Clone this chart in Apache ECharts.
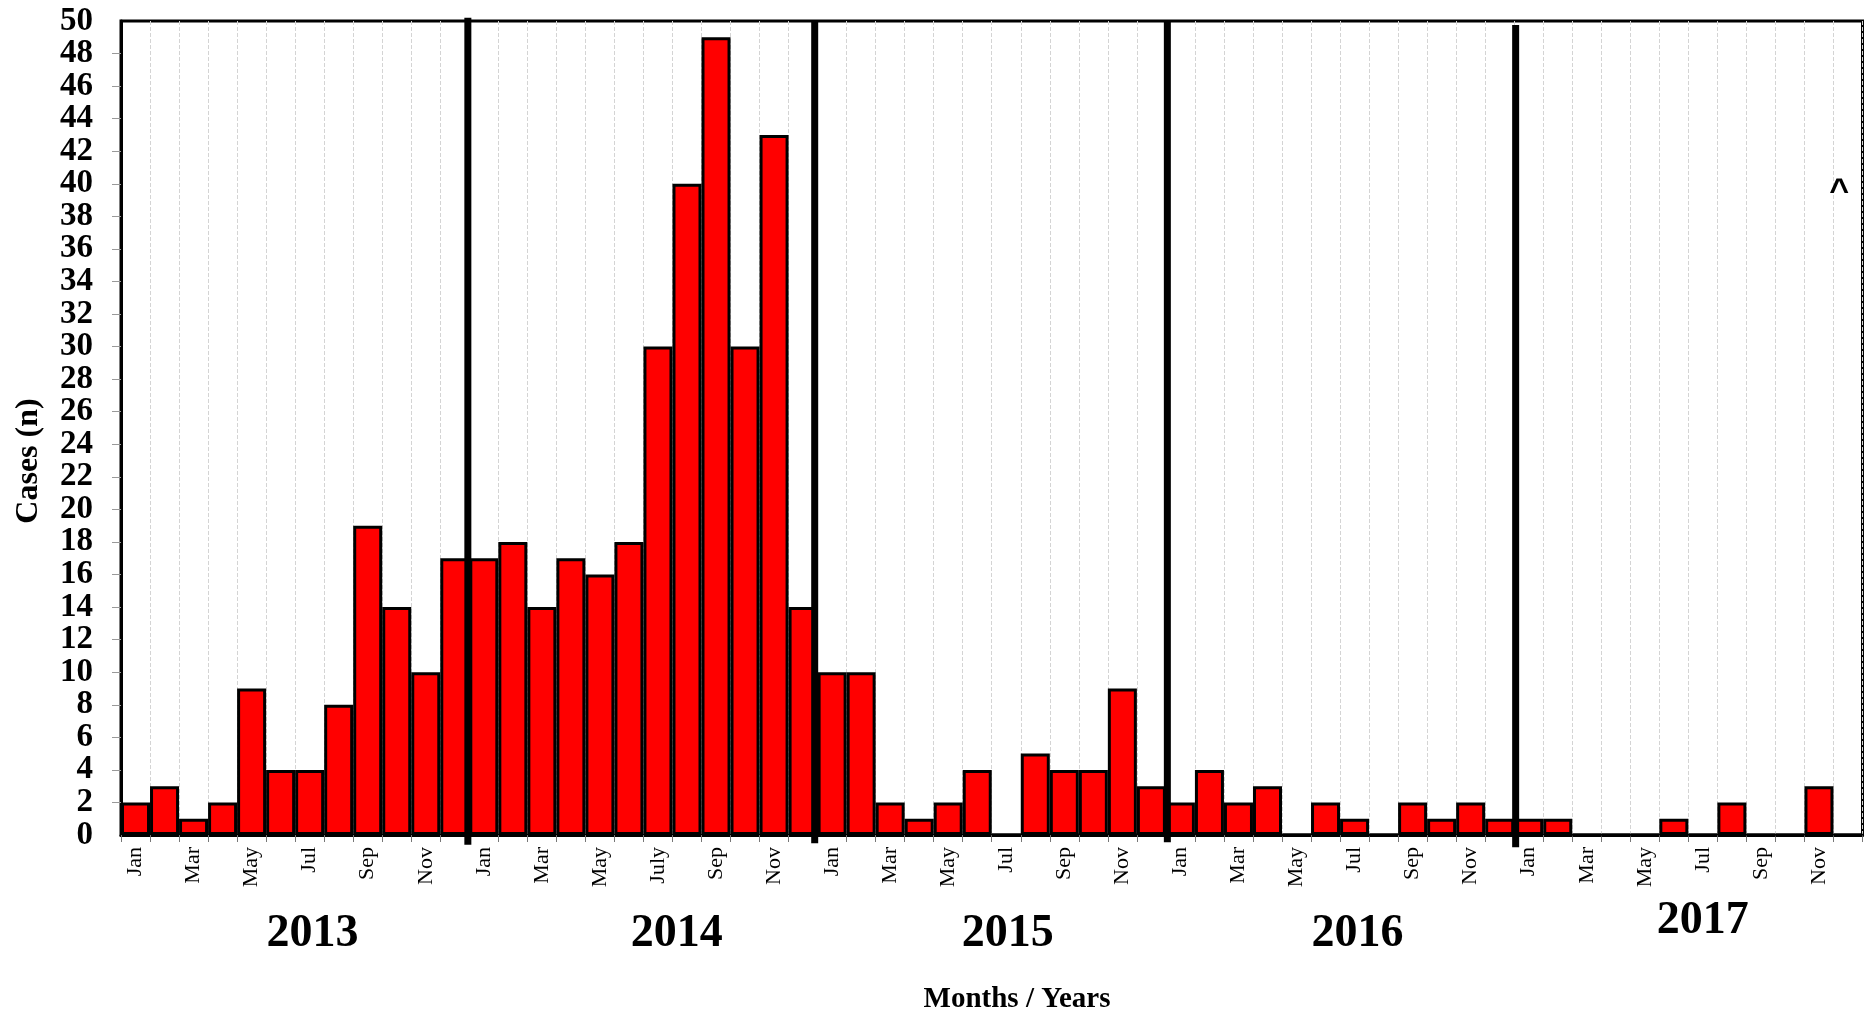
<!DOCTYPE html>
<html>
<head>
<meta charset="utf-8">
<script src="https://cdn.jsdelivr.net/npm/echarts@6/dist/echarts.min.js"></script>
<style>
html,body{margin:0;padding:0;background:#fff;}
#chart{width:1869px;height:1018px;}
</style>
</head>
<body>
<div id="chart"></div>
<script>
// ---- data ----
const labels2013 = ['Jan','Feb','Mar','Apr','May','Jun','Jul','Aug','Sep','Oct','Nov','Dec'];
const labels2014 = ['Jan','Feb','Mar','Apr','May','Jun','July','Aug','Sep','Oct','Nov','Dec'];
const labels2015 = ['Jan','Feb','Mar','Apr','May','Jun','Jul','Aug','Sep','Oct','Nov','Dec'];
const labels2016 = ['Jan','Feb','Mar','Apr','May','Jun','Jul','Aug','Sep','Oct','Nov','Dec'];
const labels2017 = ['Jan','Feb','Mar','Apr','May','Jun','Jul','Aug','Sep','Oct','Nov','Dec'];

const cases2013 = [2, 3, 1, 2, 9, 4, 4, 8, 19, 14, 10, 17];
const cases2014 = [17, 18, 14, 17, 16, 18, 30, 40, 49, 30, 43, 14];
const cases2015 = [10, 10, 2, 1, 2, 4, 0, 5, 4, 4, 9, 3];
const cases2016 = [2, 4, 2, 3, 0, 2, 1, 0, 2, 1, 2, 1];
const cases2017 = [1, 1, 0, 0, 0, 1, 0, 2, 0, 0, 3, 0];

const yearNames = ['2013', '2014', '2015', '2016', '2017'];
// year label positions in month units / case units
const yearX = [6.6, 19.15, 30.55, 42.6, 54.5];
const yearY = [-6.1, -6.1, -6.1, -6.1, -5.3];

// year separator lines (month-boundary units)
const sepX = [11.95, 23.9, 36.05, 48.05];
const sepTop = [50.2, 50.05, 50.05, 49.75];
const sepBottom = [-0.6, -0.5, -0.45, -0.75];

// caret annotation
const caretX = [59.2];
const caretY = [39.8];
const caretText = ['^'];

const categories = [].concat(labels2013, labels2014, labels2015, labels2016, labels2017);
const cases = [].concat(cases2013, cases2014, cases2015, cases2016, cases2017);

const FONT = '"Liberation Serif", "Times New Roman", serif';
const yLabelStyle = {fontFamily: FONT, fontSize: 33, fontWeight: 'bold', color: '#000'};

const chart = echarts.init(document.getElementById('chart'), null, {renderer: 'canvas'});

const option = {
  animation: false,
  backgroundColor: '#fff',
  grid: {
    left: 121, right: 6.5, top: 21, bottom: 183,
    show: true, borderColor: '#000', borderWidth: 3, backgroundColor: 'transparent'
  },
  xAxis: [
    {
      type: 'category',
      data: categories,
      boundaryGap: true,
      axisLine: {lineStyle: {color: '#000', width: 3}},
      axisTick: {show: true, interval: 0, length: 7, lineStyle: {color: '#777', width: 1}},
      axisLabel: {
        interval: 1, rotate: 90, margin: 12,
        fontFamily: FONT, fontSize: 22, color: '#000'
      },
      splitLine: {show: true, interval: 0, lineStyle: {color: '#d4d4d4', type: 'dashed', width: 1}}
    },
    {
      type: 'value', min: 0, max: 60, show: false,
      splitLine: {show: false}
    }
  ],
  yAxis: [
    {
      type: 'value', min: 0, max: 50, interval: 2, position: 'left',
      axisLine: {show: true, lineStyle: {color: '#000', width: 3}},
      axisTick: {show: true, length: 9, lineStyle: {color: '#999', width: 1}},
      axisLabel: Object.assign({margin: 28, showMinLabel: false, showMaxLabel: false}, yLabelStyle),
      splitLine: {show: false}
    },
    {
      type: 'value', min: 0, max: 50, interval: 50, position: 'left', offset: 0,
      axisLine: {show: false},
      axisTick: {show: false},
      axisLabel: Object.assign({margin: 28, showMinLabel: true, showMaxLabel: true}, yLabelStyle),
      splitLine: {show: false}
    }
  ],
  series: [
    {
      type: 'bar',
      data: cases,
      barCategoryGap: '0%',
      itemStyle: {color: '#ff0000', borderColor: '#000', borderWidth: 3},
      z: 2
    },
    {
      type: 'custom',
      xAxisIndex: 1, yAxisIndex: 0,
      clip: false, z: 5,
      data: sepX.map((x, i) => [x, sepTop[i], sepBottom[i]]),
      renderItem: function (params, api) {
        const i = params.dataIndex;
        const p1 = api.coord([sepX[i], sepTop[i]]);
        const p2 = api.coord([sepX[i], sepBottom[i]]);
        return {
          type: 'line',
          shape: {x1: p1[0], y1: p1[1], x2: p2[0], y2: p2[1]},
          style: {stroke: '#000', lineWidth: 7}
        };
      }
    },
    {
      type: 'custom',
      xAxisIndex: 1, yAxisIndex: 0,
      clip: false, z: 5,
      data: yearX.map((x, i) => [x, yearY[i]]),
      renderItem: function (params, api) {
        const i = params.dataIndex;
        const p = api.coord([yearX[i], yearY[i]]);
        return {
          type: 'text', x: p[0], y: p[1],
          style: {
            text: yearNames[i], fill: '#000',
            font: 'bold 46px ' + FONT,
            align: 'center', verticalAlign: 'middle',
            textAlign: 'center', textVerticalAlign: 'middle'
          }
        };
      }
    },
    {
      type: 'custom',
      xAxisIndex: 1, yAxisIndex: 0,
      clip: false, z: 5,
      data: caretX.map((x, i) => [x, caretY[i]]),
      renderItem: function (params, api) {
        const i = params.dataIndex;
        const p = api.coord([caretX[i], caretY[i]]);
        return {
          type: 'text', x: p[0], y: p[1] + 5,
          style: {
            text: caretText[i], fill: '#000',
            font: 'bold 34px "Liberation Sans", Arial, sans-serif',
            align: 'center', verticalAlign: 'middle',
            textAlign: 'center', textVerticalAlign: 'middle'
          }
        };
      }
    }
  ],
  graphic: [
    {
      type: 'text', x: 29, y: 461, rotation: Math.PI / 2,
      style: {
        text: 'Cases (n)', fill: '#000', font: 'bold 32px ' + FONT,
        align: 'center', verticalAlign: 'middle',
        textAlign: 'center', textVerticalAlign: 'middle'
      }
    },
    {
      type: 'text', x: 1017, y: 1000,
      style: {
        text: 'Months / Years', fill: '#000', font: 'bold 29px ' + FONT,
        align: 'center', verticalAlign: 'middle',
        textAlign: 'center', textVerticalAlign: 'middle'
      }
    }
  ]
};

chart.setOption(option);
</script>
</body>
</html>
